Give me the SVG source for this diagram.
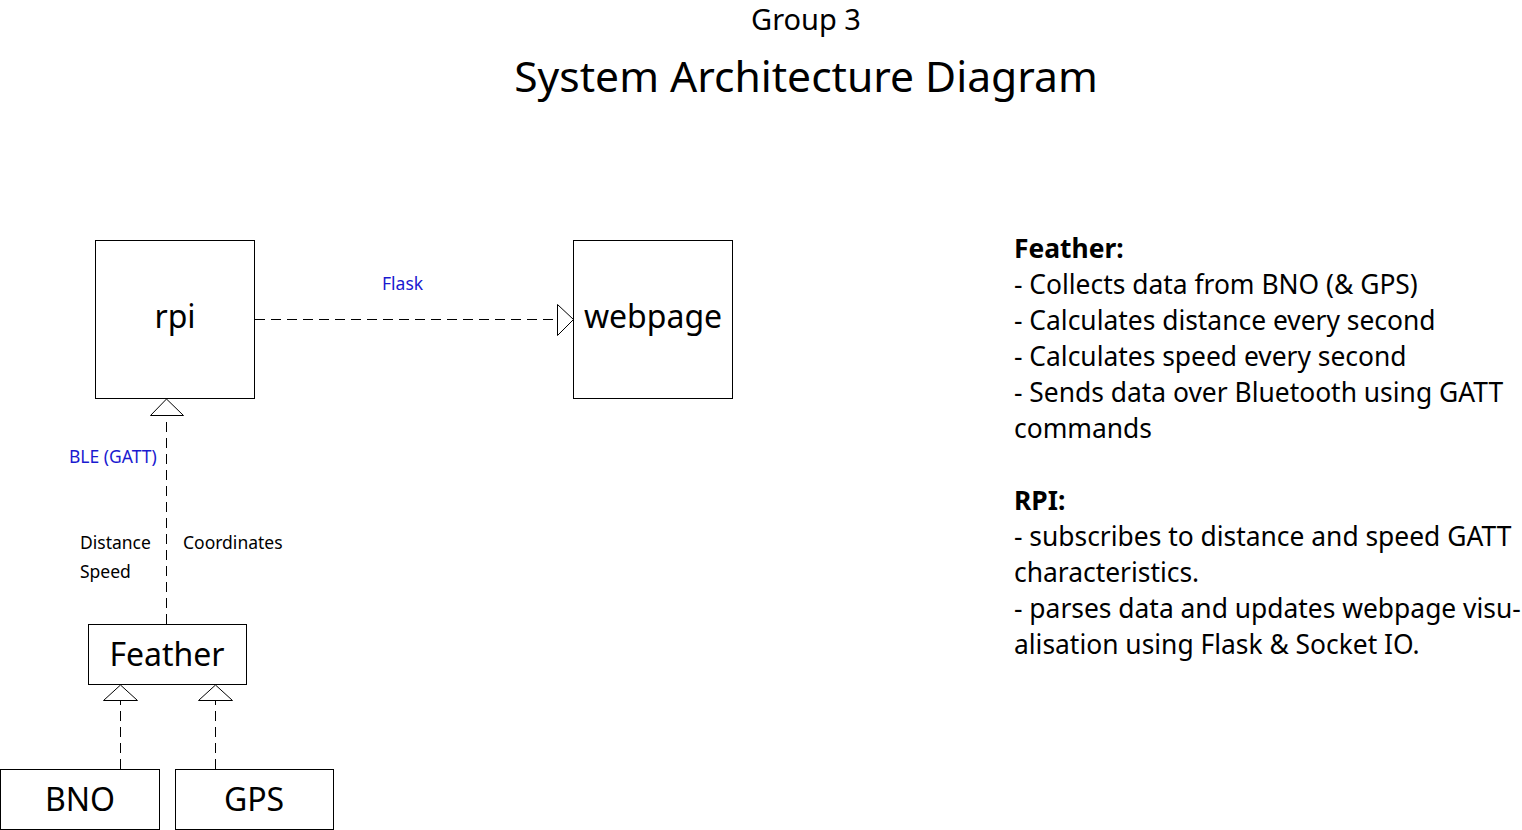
<svg xmlns="http://www.w3.org/2000/svg" width="1522" height="830" viewBox="0 0 1522 830">
<defs>
<style>
text{font-family:"Noto Sans","Open Sans","Liberation Sans",sans-serif;fill:#000}
.box{fill:#fff;stroke:#000;stroke-width:1}
.big{font-size:32px;text-anchor:middle}
.lbl{font-size:17.5px}
.blue{fill:#1a1ad0}
.conn{fill:none;stroke:#000;stroke-width:1;stroke-dasharray:10 6}
.head{fill:#fff;stroke:#000;stroke-width:1}
.note{font-size:26.4px}
</style>
</defs>
<rect width="1522" height="830" fill="#fff"/>
<text x="806" y="30" font-size="29" text-anchor="middle">Group 3</text>
<text x="806" y="92" font-size="42.6" text-anchor="middle">System Architecture Diagram</text>

<g id="connectors">
<g id="e-rpi-webpage">
<line class="conn" x1="255" y1="319.5" x2="557" y2="319.5"/>
<polygon class="head" points="557.5,304.5 573.5,319.5 557.5,335.5"/>
<text class="lbl blue" x="382" y="290">Flask</text>
</g>
<g id="e-feather-rpi">
<line class="conn" x1="166.5" y1="624" x2="166.5" y2="415"/>
<polygon class="head" points="150.5,415.5 166.5,399 183.5,415.5"/>
<text class="lbl blue" x="69" y="463">BLE (GATT)</text>
<text class="lbl" x="80" y="549">Distance</text>
<text class="lbl" x="80" y="578">Speed</text>
<text class="lbl" x="183" y="549">Coordinates</text>
</g>
<g id="e-bno-feather">
<line class="conn" x1="120.5" y1="769" x2="120.5" y2="700"/>
<polygon class="head" points="103.5,700.5 120.5,685 137.5,700.5"/>
</g>
<g id="e-gps-feather">
<line class="conn" x1="215.5" y1="769" x2="215.5" y2="700"/>
<polygon class="head" points="198.5,700.5 215.5,685 232.5,700.5"/>
</g>
</g>

<g id="rpi">
<rect class="box" x="95.5" y="240.5" width="159" height="158"/>
<text class="big" x="175" y="328">rpi</text>
</g>
<g id="webpage">
<rect class="box" x="573.5" y="240.5" width="159" height="158"/>
<text class="big" x="653" y="328">webpage</text>
</g>
<g id="feather">
<rect class="box" x="88.5" y="624.5" width="158" height="60"/>
<text class="big" x="167" y="666">Feather</text>
</g>
<g id="bno">
<rect class="box" x="0.5" y="769.5" width="159" height="60"/>
<text class="big" x="80" y="811">BNO</text>
</g>
<g id="gps">
<rect class="box" x="175.5" y="769.5" width="158" height="60"/>
<text class="big" x="254" y="811">GPS</text>
</g>

<g id="notes" class="note">
<text class="note" x="1014" y="258" font-weight="bold">Feather:</text>
<text class="note" x="1014" y="294">- Collects data from BNO (&amp; GPS)</text>
<text class="note" x="1014" y="330">- Calculates distance every second</text>
<text class="note" x="1014" y="366">- Calculates speed every second</text>
<text class="note" x="1014" y="402">- Sends data over Bluetooth using GATT</text>
<text class="note" x="1014" y="438">commands</text>
<text class="note" x="1014" y="510" font-weight="bold">RPI:</text>
<text class="note" x="1014" y="546">- subscribes to distance and speed GATT</text>
<text class="note" x="1014" y="582">characteristics.</text>
<text class="note" x="1014" y="618">- parses data and updates webpage visu-</text>
<text class="note" x="1014" y="654">alisation using Flask &amp; Socket IO.</text>
</g>
</svg>
